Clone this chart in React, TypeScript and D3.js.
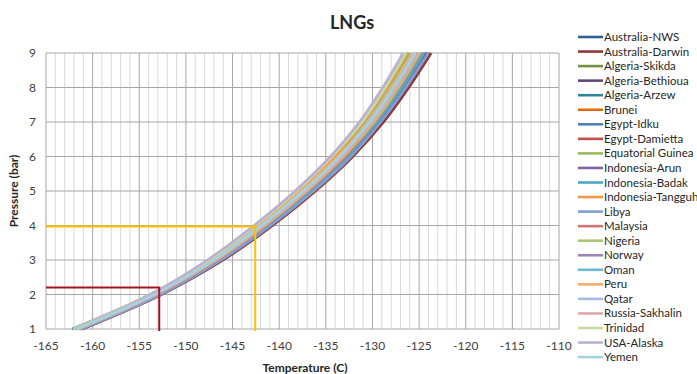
import React from "react";
import * as d3 from "d3";

// pressure levels (bar) at which each bubble-point temperature is read
const pressures = [1, 2, 3, 4, 5, 6, 7, 8, 9];

const seriesNames = [
  "Australia-NWS", "Australia-Darwin", "Algeria-Skikda", "Algeria-Bethioua", "Algeria-Arzew",
  "Brunei", "Egypt-Idku", "Egypt-Damietta", "Equatorial Guinea", "Indonesia-Arun",
  "Indonesia-Badak", "Indonesia-Tangguh", "Libya", "Malaysia", "Nigeria", "Norway",
  "Oman", "Peru", "Qatar", "Russia-Sakhalin", "Trinidad", "USA-Alaska", "Yemen",
];

const seriesColors = [
  "#365F91", "#943634", "#76923C", "#5F497A", "#31849B", "#E36C09",
  "#4F81BD", "#C0504D", "#9BBB59", "#8064A2", "#4BACC6", "#F79646",
  "#7E9FD0", "#D07573", "#A9C672", "#9A84B8", "#6BB8CF", "#F9AA6C",
  "#A4BBDF", "#DDA9A8", "#C6D9A3", "#BCB0D2", "#A3D3E0",
];

// temperature (C) at each pressure, one array per LNG
const temps = [
  [-161.2, -152.7, -146.1, -140.8, -136.2, -132.2, -128.9, -126.2, -123.9],
  [-161.1, -152.6, -146.0, -140.7, -136.1, -132.1, -128.8, -126.1, -123.7],
  [-161.4, -153.0, -146.5, -141.3, -136.7, -132.8, -129.5, -126.9, -124.5],
  [-161.2, -152.8, -146.2, -140.9, -136.4, -132.4, -129.1, -126.4, -124.1],
  [-162.2, -153.6, -146.5, -141.1, -136.5, -132.5, -129.3, -126.6, -124.2],
  [-162.0, -153.7, -147.4, -142.3, -137.9, -134.0, -130.9, -128.3, -126.1],
  [-161.3, -152.9, -146.4, -141.1, -136.6, -132.6, -129.4, -126.7, -124.4],
  [-161.3, -152.8, -146.3, -141.0, -136.4, -132.5, -129.2, -126.5, -124.2],
  [-161.9, -153.7, -147.3, -142.2, -137.8, -133.9, -130.8, -128.2, -126.0],
  [-161.3, -152.9, -146.3, -141.1, -136.5, -132.6, -129.3, -126.7, -124.3],
  [-161.4, -153.0, -146.4, -141.2, -136.7, -132.7, -129.5, -126.8, -124.5],
  [-162.1, -153.8, -147.4, -142.4, -138.0, -134.1, -131.0, -128.5, -126.3],
  [-161.2, -152.7, -146.2, -140.9, -136.3, -132.3, -129.1, -126.4, -124.0],
  [-161.5, -153.1, -146.6, -141.4, -136.9, -132.9, -129.7, -127.1, -124.8],
  [-161.5, -153.2, -146.7, -141.5, -137.0, -133.1, -129.8, -127.2, -124.9],
  [-161.7, -153.3, -146.9, -141.7, -137.2, -133.3, -130.1, -127.5, -125.2],
  [-161.7, -153.4, -146.9, -141.8, -137.3, -133.4, -130.2, -127.6, -125.4],
  [-161.8, -153.5, -147.1, -142.0, -137.6, -133.7, -130.5, -128.0, -125.7],
  [-161.8, -153.4, -147.0, -141.9, -137.4, -133.5, -130.4, -127.8, -125.5],
  [-161.6, -153.2, -146.8, -141.6, -137.1, -133.2, -130.0, -127.4, -125.1],
  [-162.1, -153.9, -147.5, -142.5, -138.1, -134.3, -131.1, -128.6, -126.4],
  [-161.9, -153.8, -147.7, -142.7, -138.3, -134.5, -131.4, -128.9, -126.7],
  [-161.7, -153.4, -147.0, -141.9, -137.4, -133.5, -130.3, -127.7, -125.4],
];

// reference read-off lines
const guideTemps = [-152.86, -142.57];
const guidePressures = [2.2, 3.97];
const guideColors = ["#A8121E", "#FFC000"];

const xTicks = [-165, -160, -155, -150, -145, -140, -135, -130, -125, -120, -115, -110];
const yTicks = [1, 2, 3, 4, 5, 6, 7, 8, 9];

const font = "Lato, 'Open Sans', sans-serif";

export default function App() {
  const x = d3.scaleLinear().domain([-165, -110]).range([46, 559]);
  const y = d3.scaleLinear().domain([1, 9]).range([329, 53]);

  const line = d3
    .line<number>()
    .x((d) => x(d))
    .y((d, i) => y(pressures[i]))
    .curve(d3.curveCatmullRom);

  const minorTicks = d3.range(-165, -109, 1);

  return (
    <svg
      width={697}
      height={374}
      style={{ position: "absolute", left: 0, top: 0, background: "#fff" }}
      fontFamily={font}
    >
      {/* vertical grid, minor then major */}
      {minorTicks
        .filter((t) => t % 5 !== 0)
        .map((t) => (
          <line key={"mv" + t} x1={x(t)} x2={x(t)} y1={y(9)} y2={y(1)} stroke="#D9D9D9" strokeWidth={1} />
        ))}
      {xTicks.map((t) => (
        <line key={"v" + t} x1={x(t)} x2={x(t)} y1={y(9)} y2={y(1)} stroke="#A6A6A6" strokeWidth={1} />
      ))}
      {yTicks.map((t) => (
        <line key={"h" + t} x1={x(-165)} x2={x(-110)} y1={y(t)} y2={y(t)} stroke="#A6A6A6" strokeWidth={1} />
      ))}

      {/* LNG curves */}
      {temps.map((arr, i) => (
        <path key={seriesNames[i]} d={line(arr) || ""} fill="none" stroke={seriesColors[i]} strokeWidth={2.6} />
      ))}

      {/* guide lines */}
      {guideTemps.map((t, i) => (
        <path
          key={"g" + i}
          d={`M${x(-165)},${y(guidePressures[i])}H${x(t)}V${y(1) + 2}`}
          fill="none"
          stroke={guideColors[i]}
          strokeWidth={2}
        />
      ))}

      {/* tick labels */}
      {xTicks.map((t) => (
        <text key={"xt" + t} x={x(t)} y={350} textAnchor="middle" fontSize={12} fill="#404040">
          {t}
        </text>
      ))}
      {yTicks.map((t) => (
        <text key={"yt" + t} x={36} y={y(t) + 4} textAnchor="end" fontSize={12} fill="#404040">
          {t}
        </text>
      ))}

      {/* titles */}
      <text x={352} y={29} textAnchor="middle" fontSize={18} fontWeight="bold" fill="#262626">
        LNGs
      </text>
      <text
        transform={`translate(18,${y(5)}) rotate(-90)`}
        textAnchor="middle"
        fontSize={12}
        fontWeight="bold"
        fill="#262626"
      >
        Pressure (bar)
      </text>
      <text x={305} y={372} textAnchor="middle" fontSize={12} fontWeight="bold" fill="#262626">
        Temperature (C)
      </text>

      {/* legend */}
      {seriesNames.map((name, i) => {
        const ly = 37 + i * 14.55;
        return (
          <g key={"lg" + name}>
            <line x1={578} x2={603} y1={ly} y2={ly} stroke={seriesColors[i]} strokeWidth={2.6} />
            <text x={604} y={ly + 4} fontSize={11.5} fill="#262626">
              {name}
            </text>
          </g>
        );
      })}
    </svg>
  );
}
